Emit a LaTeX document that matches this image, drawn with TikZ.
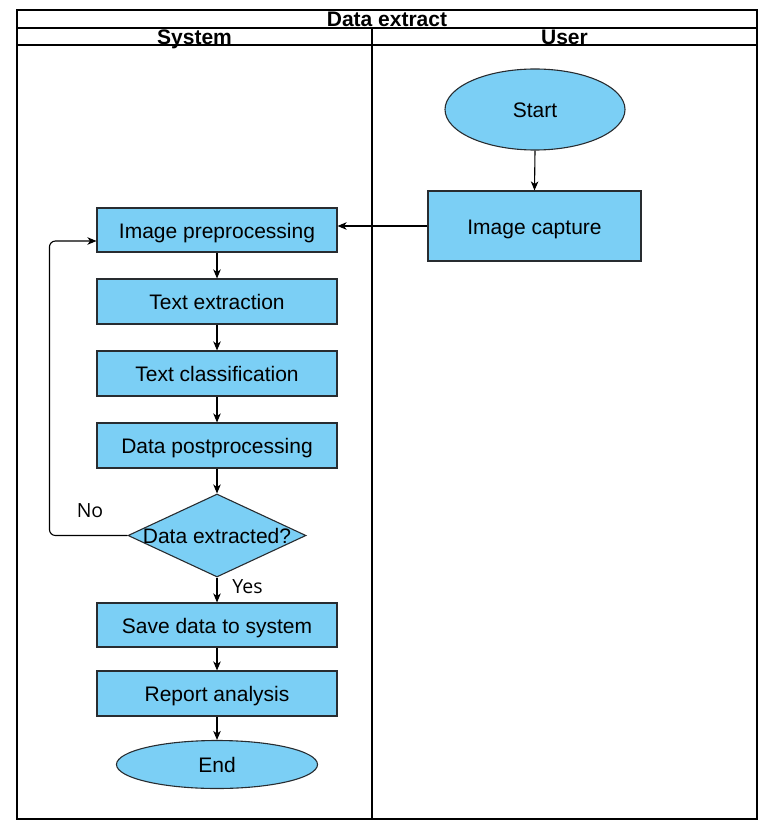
\documentclass[tikz,border=0pt]{standalone}
\usepackage{fontspec}
\setmainfont{Liberation Sans}
\newfontfamily\osans{Open Sans}
\usetikzlibrary{shapes.geometric,arrows.meta}
\definecolor{boxfill}{RGB}{123,207,245}
\definecolor{boxline}{RGB}{40,44,48}
\begin{document}
\begin{tikzpicture}[x=1pt,y=-1pt,
  lane/.style={draw=black,line width=1.3pt},
  hdr/.style={font=\fontsize{21}{22}\selectfont\bfseries,inner sep=0pt,text height=15pt,text depth=0pt},
  txt/.style={font=\fontsize{21}{22}\selectfont,text height=16.5pt,text depth=0pt},
  proc/.style={draw=boxline,fill=boxfill,line width=1.1pt,rectangle,inner sep=0pt,txt,
     minimum width=240pt,minimum height=45pt},
  term/.style={draw=boxline,fill=boxfill,line width=1.1pt,ellipse,inner sep=0pt,txt},
  dec/.style={draw=boxline,fill=boxfill,line width=1.1pt,diamond,inner sep=0pt,txt,
     minimum width=178pt,minimum height=83pt},
  arr/.style={draw=black,line width=1.1pt,-{Stealth[length=9pt,width=7.5pt,inset=2.5pt]}},
  lbl/.style={font=\osans\fontsize{19.5}{21}\selectfont,inner sep=0pt}
]
\useasboundingbox (0,0) rectangle (769,826);
% pool
\draw[lane] (17,10) rectangle (757,819);
\draw[lane] (17,28) -- (757,28);
\draw[lane] (17,45) -- (757,45);
\draw[lane] (372,28) -- (372,819);
\node[hdr] (title) at (387,19) {Data extract};
\node[hdr] (sys) at (194.5,37) {System};
\node[hdr] (usr) at (564.5,37) {User};
% user lane
\node[term,minimum width=180pt,minimum height=81pt] (start) at (535,109.5) {Start};
\node[proc,minimum width=213pt,minimum height=70pt] (cap) at (534.5,226) {Image capture};
% system lane
\node[proc,minimum height=44pt] (pre) at (217,230) {Image preprocessing};
\node[proc] (tex) at (217,301.5) {Text extraction};
\node[proc] (cls) at (217,373.5) {Text classification};
\node[proc] (post) at (217,445.5) {Data postprocessing};
\node[dec] (chk) at (217,535.5) {\makebox[0pt]{Data extracted?}};
\node[proc,minimum height=44pt] (save) at (217,625) {Save data to system};
\node[proc] (rep) at (217,693.5) {Report analysis};
\node[term,minimum width=201pt,minimum height=48pt] (end) at (217,764.5) {End};
% connectors
\draw[arr] (start.south) -- (cap.north);
\draw[arr] (cap.west) -- (cap.west -| pre.east);
\draw[arr] (pre.south) -- (tex.north);
\draw[arr] (tex.south) -- (cls.north);
\draw[arr] (cls.south) -- (post.north);
\draw[arr] (post.south) -- (chk.north);
\draw[arr] (chk.south) -- (save.north);
\draw[arr] (save.south) -- (rep.north);
\draw[arr] (rep.south) -- (end.north);
\draw[arr,rounded corners=6pt] (chk.west) -- ++(-78,0) |- ([yshift=-11pt]pre.west);
\node[lbl] (no) at (90,511) {No};
\node[lbl] (yes) at (247.5,587) {Yes};
\end{tikzpicture}
\end{document}
